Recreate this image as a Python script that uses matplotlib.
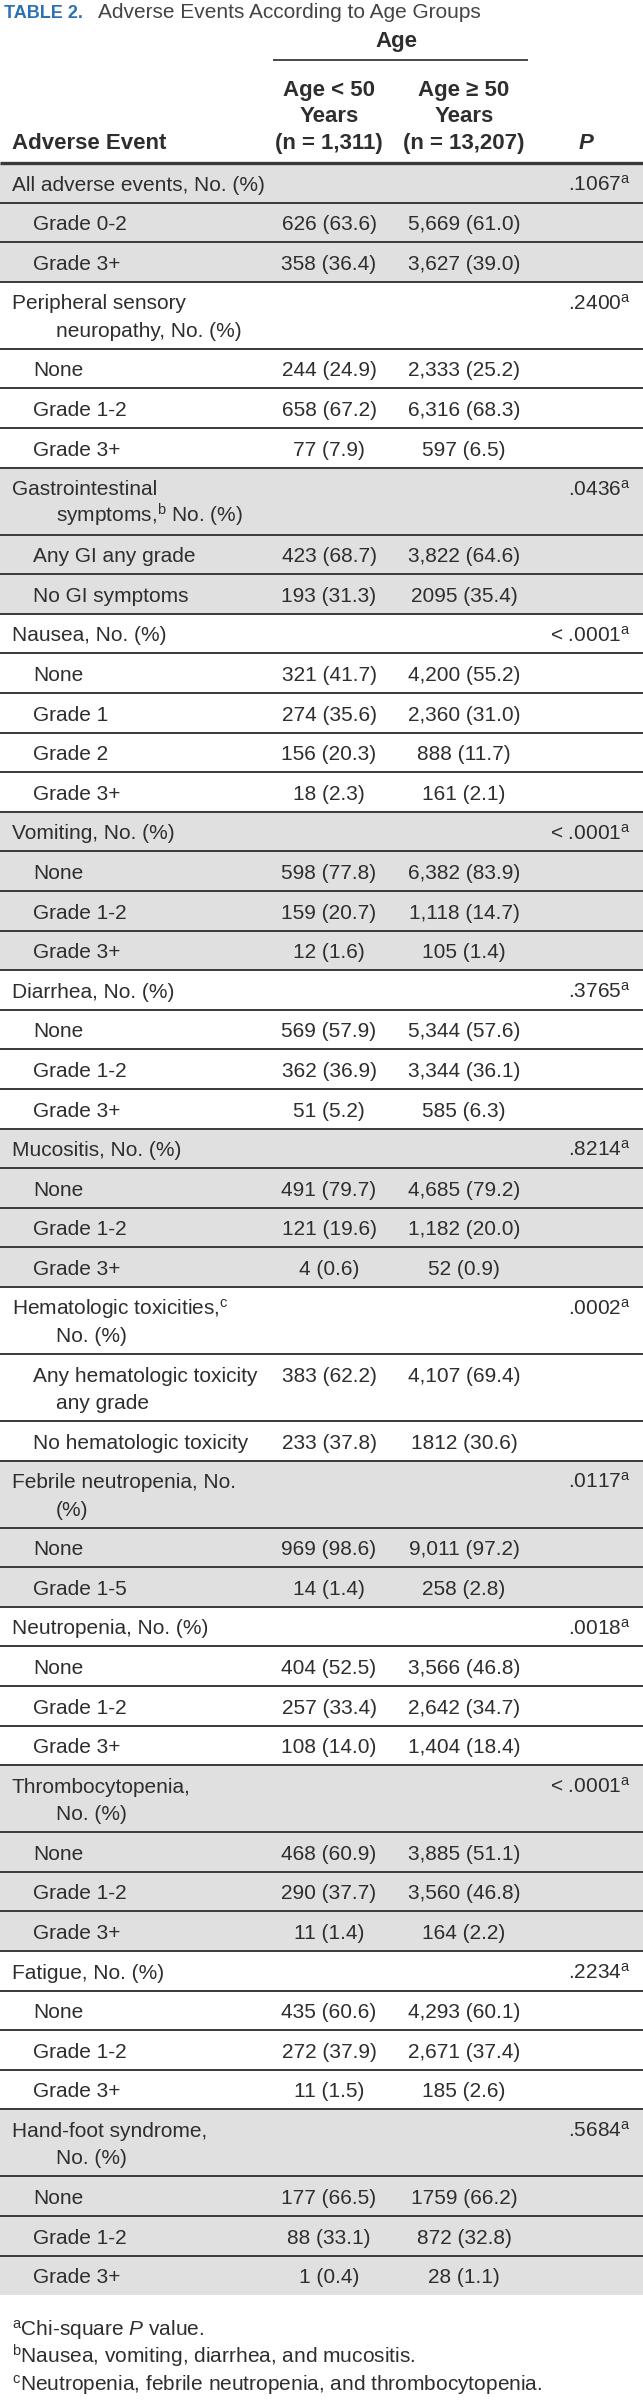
"""
Table 2 -- adverse events by age group, drawn as a matplotlib table figure.
"""
import matplotlib
matplotlib.use("Agg")
import matplotlib.pyplot as plt
from matplotlib import font_manager

plt.rcParams['font.family'] = ['Liberation Sans', 'DejaVu Sans']
plt.rcParams['mathtext.fontset'] = 'custom'
plt.rcParams['mathtext.rm'] = 'Liberation Sans'
plt.rcParams['mathtext.it'] = 'Liberation Sans:italic'
plt.rcParams['mathtext.bf'] = 'Liberation Sans:bold'

# ---- data ----
events = [
    "All adverse events, No. (%)", "Grade 0-2", "Grade 3+",
    "Peripheral sensory\nneuropathy, No. (%)", "None", "Grade 1-2", "Grade 3+",
    "Gastrointestinal\nsymptoms,$^{\\mathrm{b}}$ No. (%)", "Any GI any grade", "No GI symptoms",
    "Nausea, No. (%)", "None", "Grade 1", "Grade 2", "Grade 3+",
    "Vomiting, No. (%)", "None", "Grade 1-2", "Grade 3+",
    "Diarrhea, No. (%)", "None", "Grade 1-2", "Grade 3+",
    "Mucositis, No. (%)", "None", "Grade 1-2", "Grade 3+",
    "Hematologic toxicities,$^{\\mathrm{c}}$\nNo. (%)", "Any hematologic toxicity\nany grade",
    "No hematologic toxicity",
    "Febrile neutropenia, No.\n(%)", "None", "Grade 1-5",
    "Neutropenia, No. (%)", "None", "Grade 1-2", "Grade 3+",
    "Thrombocytopenia,\nNo. (%)", "None", "Grade 1-2", "Grade 3+",
    "Fatigue, No. (%)", "None", "Grade 1-2", "Grade 3+",
    "Hand-foot syndrome,\nNo. (%)", "None", "Grade 1-2", "Grade 3+",
]
younger = [
    "", "626 (63.6)", "358 (36.4)",
    "", "244 (24.9)", "658 (67.2)", "77 (7.9)",
    "", "423 (68.7)", "193 (31.3)",
    "", "321 (41.7)", "274 (35.6)", "156 (20.3)", "18 (2.3)",
    "", "598 (77.8)", "159 (20.7)", "12 (1.6)",
    "", "569 (57.9)", "362 (36.9)", "51 (5.2)",
    "", "491 (79.7)", "121 (19.6)", "4 (0.6)",
    "", "383 (62.2)", "233 (37.8)",
    "", "969 (98.6)", "14 (1.4)",
    "", "404 (52.5)", "257 (33.4)", "108 (14.0)",
    "", "468 (60.9)", "290 (37.7)", "11 (1.4)",
    "", "435 (60.6)", "272 (37.9)", "11 (1.5)",
    "", "177 (66.5)", "88 (33.1)", "1 (0.4)",
]
older = [
    "", "5,669 (61.0)", "3,627 (39.0)",
    "", "2,333 (25.2)", "6,316 (68.3)", "597 (6.5)",
    "", "3,822 (64.6)", "2095 (35.4)",
    "", "4,200 (55.2)", "2,360 (31.0)", "888 (11.7)", "161 (2.1)",
    "", "6,382 (83.9)", "1,118 (14.7)", "105 (1.4)",
    "", "5,344 (57.6)", "3,344 (36.1)", "585 (6.3)",
    "", "4,685 (79.2)", "1,182 (20.0)", "52 (0.9)",
    "", "4,107 (69.4)", "1812 (30.6)",
    "", "9,011 (97.2)", "258 (2.8)",
    "", "3,566 (46.8)", "2,642 (34.7)", "1,404 (18.4)",
    "", "3,885 (51.1)", "3,560 (46.8)", "164 (2.2)",
    "", "4,293 (60.1)", "2,671 (37.4)", "185 (2.6)",
    "", "1759 (66.2)", "872 (32.8)", "28 (1.1)",
]
p_values = [
    ".1067", "", "",
    ".2400", "", "", "",
    ".0436", "", "",
    "< .0001", "", "", "", "",
    "< .0001", "", "", "",
    ".3765", "", "", "",
    ".8214", "", "", "",
    ".0002", "", "",
    ".0117", "", "",
    ".0018", "", "", "",
    "< .0001", "", "", "",
    ".2234", "", "", "",
    ".5684", "", "", "",
]
col_headers = ["Age < 50\nYears\n(n = 1,311)", "Age \u2265 50\nYears\n(n = 13,207)"]
footnotes = [
    "$^{\\mathrm{a}}$Chi-square $\\mathit{P}$ value.",
    "$^{\\mathrm{b}}$Nausea, vomiting, diarrhea, and mucositis.",
    "$^{\\mathrm{c}}$Neutropenia, febrile neutropenia, and thrombocytopenia.",
]

# ---- layout ----
W, H = 643, 2402
TXT = '#2e2e2e'
GRAY = '#e1e0e1'
RULE = '#3a3a3a'
FS = 15
HFS = 16
x_lab, x_sub, x_cont = 12, 33, 56
x_c1, x_c2, x_p = 329, 464, 631
row_h, extra_h = 39.6, 27.4
table_top = 163

# narrow face for the "TABLE 2." label if it is there
names = {f.name for f in font_manager.fontManager.ttflist}
if 'Liberation Sans Narrow' in names:
    title_family, title_fs = ['Liberation Sans Narrow', 'Liberation Sans'], 15
else:
    title_family, title_fs = ['Liberation Sans', 'DejaVu Sans'], 13

fig = plt.figure(figsize=(W / 100, H / 100), dpi=100)
ax = fig.add_axes([0, 0, 1, 1])
ax.set_xlim(0, W)
ax.set_ylim(H, 0)
ax.axis('off')

# title
ax.text(4, 18, "TABLE 2.", color='#2b72b3', fontsize=title_fs, fontweight='bold',
        family=title_family, va='baseline')
ax.text(98, 18, "Adverse Events According to Age Groups", color='#444444', fontsize=15,
        va='baseline')

# column headers
ax.text((x_c1 + x_c2) / 2, 47, "Age", color=TXT, fontsize=HFS, fontweight='bold',
        ha='center', va='baseline')
ax.hlines(60, 273, 528, color=RULE, lw=1.3)
for xc, hdr in zip([x_c1, x_c2], col_headers):
    for k, line in enumerate(hdr.split("\n")):
        ax.text(xc, 96 + 26.5 * k, line, color=TXT, fontsize=HFS, fontweight='bold',
                ha='center', va='baseline')
ax.text(x_lab, 149, "Adverse Event", color=TXT, fontsize=HFS, fontweight='bold',
        va='baseline')
ax.text(586, 149, "P", color=TXT, fontsize=HFS, fontweight='bold', fontstyle='italic',
        ha='center', va='baseline')

# body rows
y = table_top
group = -1
n = len(events)
for i in range(n):
    lines = events[i].split("\n")
    h = row_h + extra_h * (len(lines) - 1)
    header_row = p_values[i] != ""
    if header_row:
        group += 1
    if group % 2 == 0:
        ax.axhspan(y, y + h, color=GRAY, lw=0, zorder=0)
    base = y + 27.6
    for k, line in enumerate(lines):
        if k == 0:
            x0 = x_lab if header_row else x_sub
        else:
            x0 = x_cont
        ax.text(x0, base + extra_h * k, line, color=TXT, fontsize=FS, va='baseline')
    if younger[i]:
        ax.text(x_c1, base, younger[i], color=TXT, fontsize=FS, ha='center', va='baseline')
    if older[i]:
        ax.text(x_c2, base, older[i], color=TXT, fontsize=FS, ha='center', va='baseline')
    if header_row:
        ax.text(x_p, base, p_values[i] + "$^{\\mathrm{a}}$", color=TXT, fontsize=FS,
                ha='right', va='baseline')
    if i < n - 1:
        ax.hlines(y + h, 0, W, color=RULE, lw=1.4, zorder=3)
    y += h

ax.hlines(table_top, 0, W, color=RULE, lw=2.4, zorder=4)

# footnotes
for k, note in enumerate(footnotes):
    ax.text(12, y + 41 + 27.5 * k, note, color=TXT, fontsize=FS, va='baseline')

fig.savefig("out.png", dpi=100)
